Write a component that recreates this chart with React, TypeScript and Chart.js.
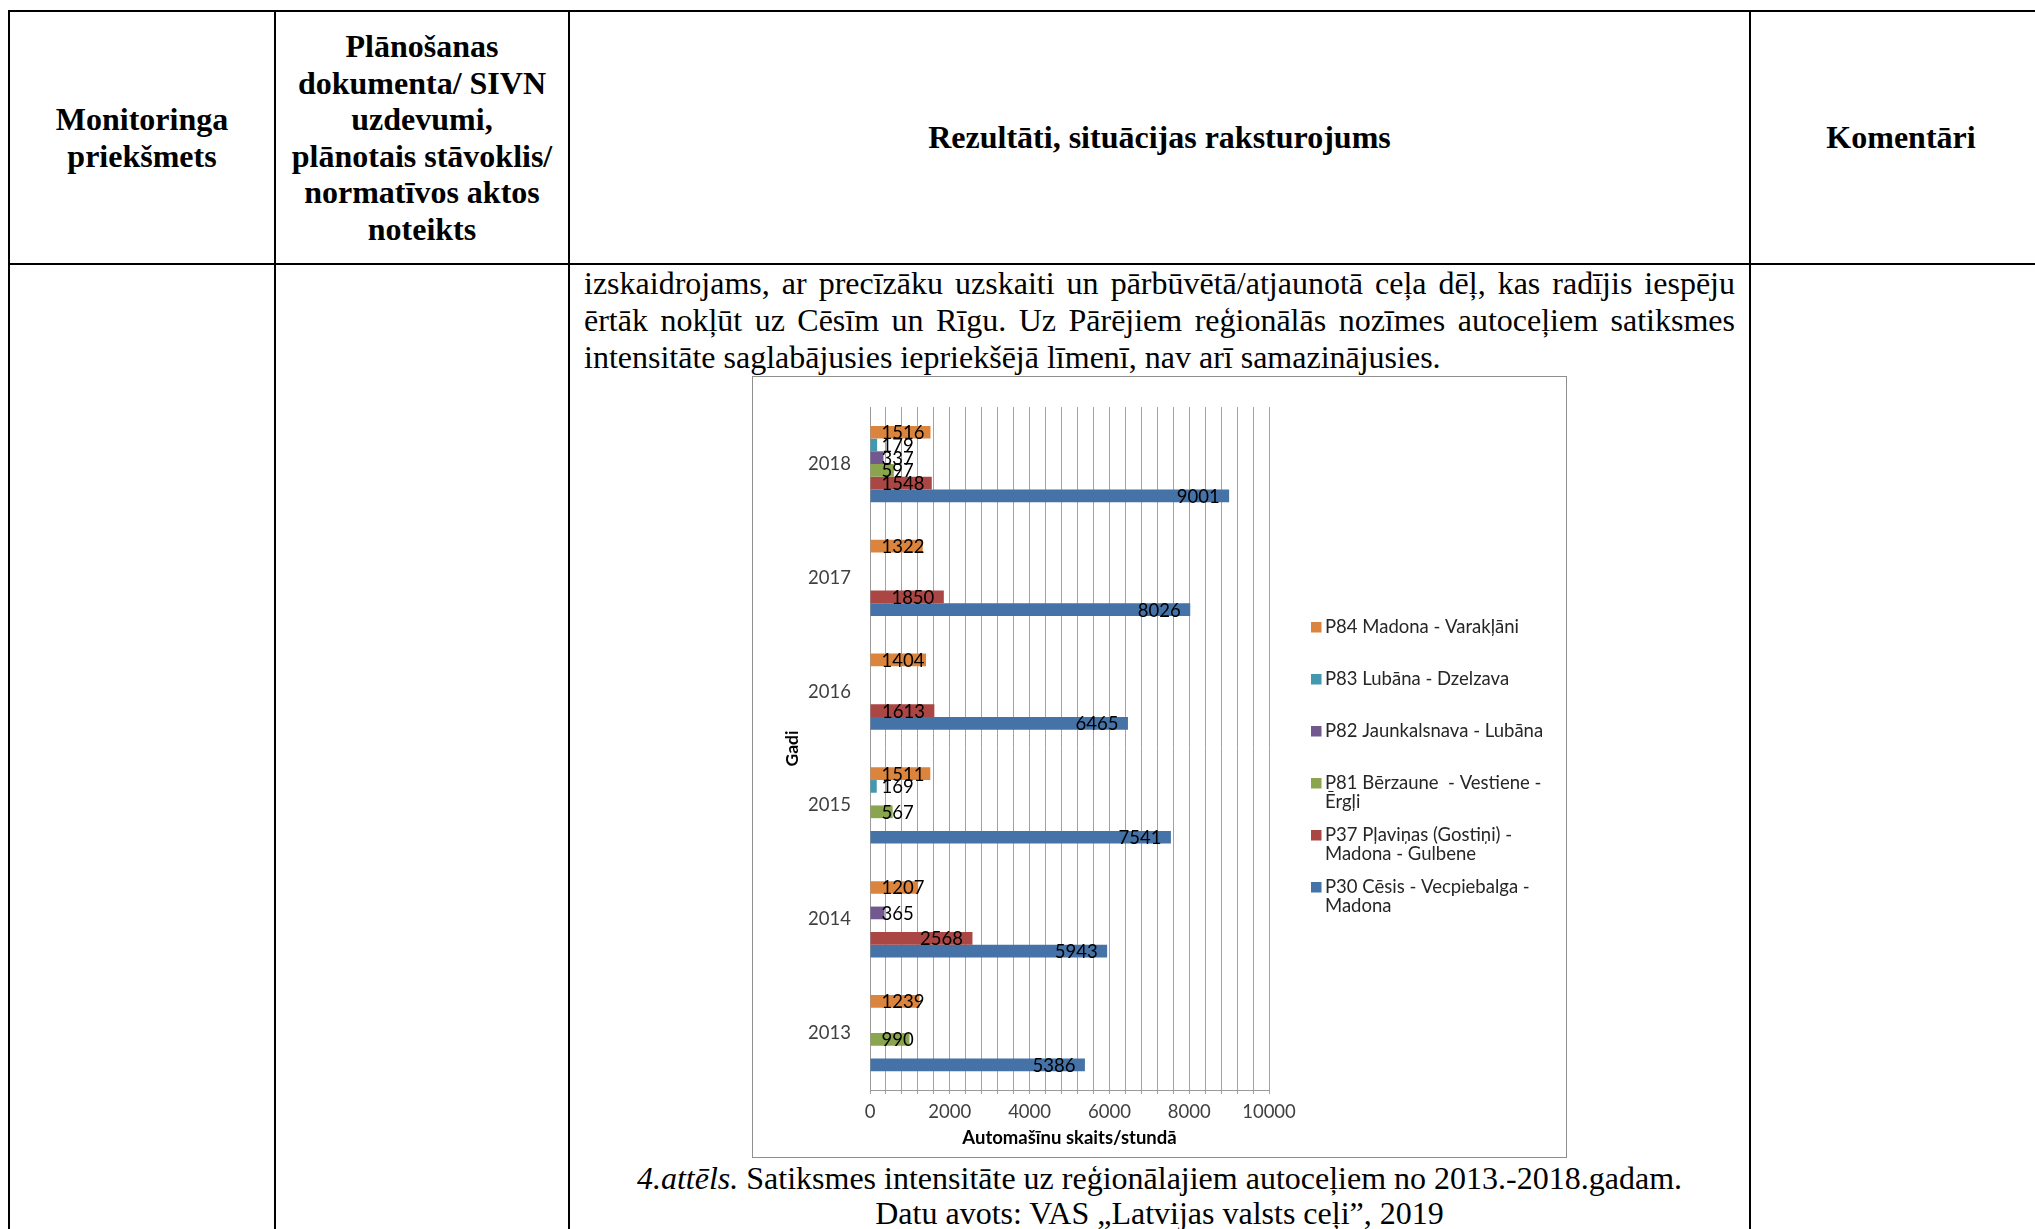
import React, { useEffect, useRef } from 'react';
import { Chart, registerables } from 'chart.js';

Chart.register(...registerables);

// ---- data ----
const years = ['2018', '2017', '2016', '2015', '2014', '2013'];
const seriesNames = [
  'P84 Madona - Varakļāni',
  'P83 Lubāna - Dzelzava',
  'P82 Jaunkalsnava - Lubāna',
  'P81 Bērzaune  - Vestiene - Ērgļi',
  'P37 Pļaviņas (Gostiņi) - Madona - Gulbene',
  'P30 Cēsis - Vecpiebalga - Madona',
];
const p84 = [1516, 1322, 1404, 1511, 1207, 1239];
const p83 = [179, null, null, 169, null, null];
const p82 = [337, null, null, null, 365, null];
const p81 = [597, null, null, 567, null, 990];
const p37 = [1548, 1850, 1613, null, 2568, null];
const p30 = [9001, 8026, 6465, 7541, 5943, 5386];
const seriesValues = [p84, p83, p82, p81, p37, p30];
const seriesColors = ['#DB843D', '#4198AF', '#71588F', '#89A54E', '#AA4643', '#4572A7'];
const xMin = 0;
const xMax = 10000;
const xGridStep = 400;
const xLabelStep = 2000;
const xTitle = 'Automašīnu skaits/stundā';
const yTitle = 'Gadi';

const FONT = 'Lato';

const dataLabelPlugin = {
  id: 'dataLabels',
  afterDatasetsDraw(chart: any) {
    const ctx = chart.ctx;
    ctx.save();
    ctx.font = `18.5px ${FONT}`;
    ctx.fillStyle = '#000';
    ctx.textBaseline = 'middle';
    ctx.textAlign = 'left';
    chart.data.datasets.forEach((ds: any, i: number) => {
      const meta = chart.getDatasetMeta(i);
      meta.data.forEach((el: any, j: number) => {
        const v = ds.data[j];
        if (v == null) return;
        const txt = String(v);
        const w = ctx.measureText(txt).width;
        const { x, y, base } = el.getProps(['x', 'y', 'base'], true);
        const left = Math.max(base + 11, x - 9.5 - w);
        ctx.fillText(txt, left, y + 1);
      });
    });
    ctx.restore();
  },
};

function wrapText(ctx: CanvasRenderingContext2D, text: string, maxW: number): string[] {
  const words = text.split(' ');
  const lines: string[] = [];
  let cur = '';
  words.forEach((w) => {
    const test = cur === '' ? w : cur + ' ' + w;
    if (cur !== '' && w !== '' && ctx.measureText(test).width > maxW) {
      lines.push(cur.trimEnd());
      cur = w;
    } else {
      cur = test;
    }
  });
  if (cur) lines.push(cur);
  return lines;
}

const sideLegendPlugin = {
  id: 'sideLegend',
  afterDraw(chart: any) {
    const ctx = chart.ctx;
    const area = chart.chartArea;
    ctx.save();
    ctx.font = `18.5px ${FONT}`;
    ctx.textBaseline = 'middle';
    ctx.textAlign = 'left';
    const boxX = area.right + 42;
    const textX = boxX + 14;
    chart.data.datasets.forEach((ds: any, i: number) => {
      const lines = wrapText(ctx, ds.label, 236);
      const y0 = 250 + i * 52;
      ctx.fillStyle = ds.backgroundColor;
      ctx.fillRect(boxX, y0 - 5, 10.5, 10.5);
      ctx.fillStyle = '#262626';
      lines.forEach((ln, k) => ctx.fillText(ln, textX, y0 + k * 19.5));
    });
    ctx.restore();
  },
};

function ChartBox() {
  const ref = useRef<HTMLCanvasElement>(null);
  useEffect(() => {
    const chart = new Chart(ref.current as HTMLCanvasElement, {
      type: 'bar',
      data: {
        labels: years,
        datasets: seriesValues.map((d, i) => ({
          label: seriesNames[i],
          data: d as any,
          backgroundColor: seriesColors[i],
          borderWidth: 0,
          barPercentage: 1,
          categoryPercentage: 0.67,
        })),
      },
      options: {
        indexAxis: 'y',
        responsive: false,
        animation: false,
        layout: { padding: { top: 28, right: 297, bottom: 0, left: 0 } },
        plugins: { legend: { display: false }, tooltip: { enabled: false } },
        scales: {
          x: {
            min: xMin,
            max: xMax,
            ticks: {
              stepSize: xGridStep,
              autoSkip: false,
              maxRotation: 0,
              padding: 7,
              color: '#404040',
              font: { family: FONT, size: 18.5 },
              callback: (v: any) => (Math.round(Number(v)) % xLabelStep === 0 ? String(Math.round(Number(v))) : ''),
            },
            grid: { color: '#a3a3a3', tickLength: 4, lineWidth: 1 },
            border: { color: '#9a9a9a' },
            title: {
              display: true,
              text: xTitle,
              color: '#000',
              font: { family: FONT, size: 18.5, weight: 'bold' },
              padding: { top: 0, bottom: 8 },
            },
            afterFit: (s: any) => {
              s.height = 67;
            },
          },
          y: {
            ticks: { padding: 19, color: '#404040', font: { family: FONT, size: 18.5 } },
            grid: { display: false, drawTicks: false },
            border: { color: '#9a9a9a' },
            title: {
              display: true,
              text: yTitle,
              color: '#000',
              font: { family: FONT, size: 17.5, weight: 'bold' },
              padding: { top: 29, bottom: 0 },
            },
            afterFit: (s: any) => {
              s.width = 117;
            },
          },
        },
      } as any,
      plugins: [dataLabelPlugin, sideLegendPlugin],
    });
    return () => chart.destroy();
  }, []);
  return <canvas ref={ref} width={813} height={780} style={{ display: 'block' }} />;
}

const line = (left: number, top: number, width: number, height: number): React.CSSProperties => ({
  position: 'absolute',
  left,
  top,
  width,
  height,
  background: '#000',
});

const headCell = (left: number, width: number): React.CSSProperties => ({
  position: 'absolute',
  left,
  top: 12,
  width,
  height: 251,
  display: 'flex',
  alignItems: 'center',
  justifyContent: 'center',
  textAlign: 'center',
  fontWeight: 'bold',
  fontSize: 32,
  lineHeight: '36.5px',
});

const justLine: React.CSSProperties = {
  textAlign: 'justify',
  textAlignLast: 'justify',
  whiteSpace: 'nowrap',
  height: 37,
};

export default function App() {
  return (
    <div
      style={{
        position: 'fixed',
        left: 0,
        top: 0,
        width: 2035,
        height: 1229,
        overflow: 'hidden',
        background: '#fff',
        fontFamily: '"Liberation Serif", "Times New Roman", serif',
        color: '#000',
      }}
    >
      {/* table lines */}
      <div style={line(8, 10, 2040, 2)} />
      <div style={line(8, 263, 2040, 2)} />
      <div style={line(8, 10, 2, 1230)} />
      <div style={line(274, 10, 2, 1230)} />
      <div style={line(568, 10, 2, 1230)} />
      <div style={line(1749, 10, 2, 1230)} />

      {/* header */}
      <div style={headCell(10, 264)}>
        <div>
          Monitoringa
          <br />
          priekšmets
        </div>
      </div>
      <div style={headCell(276, 292)}>
        <div>
          Plānošanas
          <br />
          dokumenta/ SIVN
          <br />
          uzdevumi,
          <br />
          plānotais stāvoklis/
          <br />
          normatīvos aktos
          <br />
          noteikts
        </div>
      </div>
      <div style={headCell(570, 1179)}>
        <div>Rezultāti, situācijas raksturojums</div>
      </div>
      <div style={headCell(1751, 300)}>
        <div>Komentāri</div>
      </div>

      {/* paragraph */}
      <div
        style={{
          position: 'absolute',
          left: 584,
          top: 265,
          width: 1151,
          fontSize: 32,
          lineHeight: '37px',
        }}
      >
        <div style={justLine}>
          izskaidrojams, ar precīzāku uzskaiti un pārbūvētā/atjaunotā ceļa dēļ, kas radījis iespēju
        </div>
        <div style={justLine}>
          ērtāk nokļūt uz Cēsīm un Rīgu. Uz Pārējiem reģionālās nozīmes autoceļiem satiksmes
        </div>
        <div style={{ whiteSpace: 'nowrap', height: 37 }}>
          intensitāte saglabājusies iepriekšējā līmenī, nav arī samazinājusies.
        </div>
      </div>

      {/* chart */}
      <div
        style={{
          position: 'absolute',
          left: 752,
          top: 376,
          width: 813,
          height: 780,
          border: '1px solid #8f8f8f',
          background: '#fff',
        }}
      >
        <ChartBox />
      </div>

      {/* caption */}
      <div
        style={{
          position: 'absolute',
          left: 570,
          top: 1161,
          width: 1179,
          textAlign: 'center',
          fontSize: 32,
          lineHeight: '35px',
          whiteSpace: 'nowrap',
        }}
      >
        <div>
          <i>4.attēls.</i> Satiksmes intensitāte uz reģionālajiem autoceļiem no 2013.-2018.gadam.
        </div>
        <div>Datu avots: VAS „Latvijas valsts ceļi”, 2019</div>
      </div>
    </div>
  );
}
